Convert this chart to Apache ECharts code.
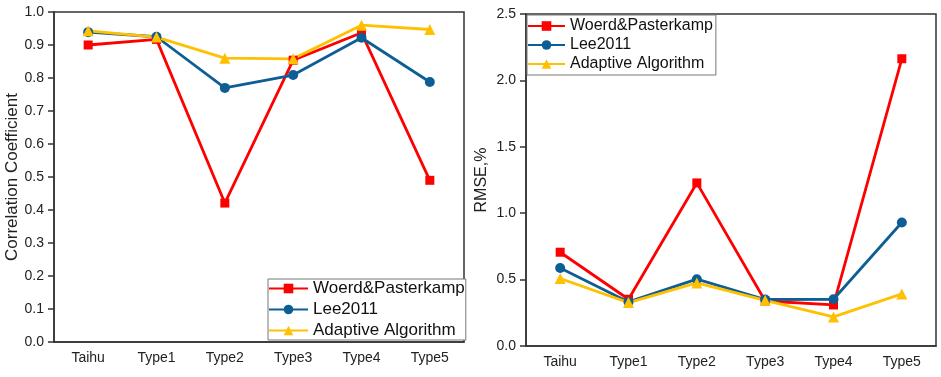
<!DOCTYPE html>
<html>
<head>
<meta charset="utf-8">
<script src="https://cdn.jsdelivr.net/npm/echarts@6/dist/echarts.min.js"></script>
<style>
html,body{margin:0;padding:0;background:#fff;}
#c{width:941px;height:377px;}
</style>
</head>
<body>
<div id="c"></div>
<script>
const categories = ['Taihu', 'Type1', 'Type2', 'Type3', 'Type4', 'Type5'];
const seriesNames = ['Woerd&Pasterkamp', 'Lee2011', 'Adaptive Algorithm'];

const corrWoerd = [0.900, 0.917, 0.421, 0.854, 0.937, 0.490];
const corrLee = [0.939, 0.925, 0.770, 0.809, 0.922, 0.788];
const corrAdaptive = [0.943, 0.924, 0.860, 0.858, 0.960, 0.947];

const rmseWoerd = [0.706, 0.352, 1.228, 0.339, 0.309, 2.163];
const rmseLee = [0.588, 0.332, 0.503, 0.350, 0.352, 0.930];
const rmseAdaptive = [0.508, 0.327, 0.475, 0.344, 0.219, 0.392];

const colors = ['#FF0000', '#0E5E96', '#FFC000'];
const symbols = ['rect', 'circle', 'triangle'];
const symbolSizes = [9, 10, 11];
const FONT = 'Liberation Sans, Arial, sans-serif';

function mkSeries(name, data, idx, axisIdx) {
  return {
    name: name, type: 'line', data: data,
    xAxisIndex: axisIdx, yAxisIndex: axisIdx,
    symbol: symbols[idx], symbolSize: symbolSizes[idx],
    lineStyle: {color: colors[idx], width: 2.8},
    itemStyle: {color: colors[idx]},
    animation: false
  };
}

function xAx(gi) {
  return {
    type: 'category', gridIndex: gi, data: categories, boundaryGap: true,
    axisLine: {lineStyle: {color: '#333', width: 1.5}},
    axisTick: {alignWithLabel: true, length: 6, lineStyle: {color: '#333', width: 1.5}},
    axisLabel: {color: '#222', fontSize: 14, fontFamily: FONT, margin: 9},
    splitLine: {show: false}
  };
}
function yAx(gi, max, interval, name, nameSize, nameGap) {
  return {
    type: 'value', gridIndex: gi, min: 0, max: max, interval: interval,
    name: name, nameLocation: 'middle', nameRotate: 90, nameGap: nameGap,
    nameTextStyle: {color: '#222', fontSize: nameSize, fontFamily: FONT},
    axisLine: {show: true, lineStyle: {color: '#333', width: 1.5}},
    axisTick: {show: true, length: 6, lineStyle: {color: '#333', width: 1.5}},
    axisLabel: {color: '#222', fontSize: 14, fontFamily: FONT, margin: 10,
      formatter: v => v.toFixed(1)},
    splitLine: {show: false}
  };
}

const chart = echarts.init(document.getElementById('c'), null, {renderer: 'canvas'});
chart.setOption({
  backgroundColor: '#fff',
  animation: false,
  grid: [
    {left: 54, top: 12, width: 410, height: 330, show: true, borderColor: '#333', borderWidth: 1.5, backgroundColor: 'transparent'},
    {left: 526, top: 14, width: 410, height: 332, show: true, borderColor: '#333', borderWidth: 1.5, backgroundColor: 'transparent'}
  ],
  xAxis: [xAx(0), xAx(1)],
  yAxis: [
    yAx(0, 1.0, 0.1, 'Correlation Coefficient', 17, 33),
    yAx(1, 2.5, 0.5, 'RMSE,%', 16, 36)
  ],
  legend: [
    {
      orient: 'vertical', left: 268, top: 279,
      data: seriesNames,
      itemWidth: 39, itemHeight: 12, itemGap: 4,
      padding: [1, 1, 1, 0],
      borderColor: '#777', borderWidth: 1, backgroundColor: '#fff',
      textStyle: {color: '#111', fontSize: 17, fontFamily: FONT},
      selectedMode: false
    },
    {
      orient: 'vertical', left: 527, top: 15,
      data: seriesNames,
      itemWidth: 37, itemHeight: 12, itemGap: 3,
      padding: [3, 3, 3, 0],
      borderColor: '#777', borderWidth: 1, backgroundColor: '#fff',
      textStyle: {color: '#111', fontSize: 16, fontFamily: FONT},
      selectedMode: false
    }
  ],
  series: [
    mkSeries(seriesNames[0], corrWoerd, 0, 0),
    mkSeries(seriesNames[1], corrLee, 1, 0),
    mkSeries(seriesNames[2], corrAdaptive, 2, 0),
    mkSeries(seriesNames[0], rmseWoerd, 0, 1),
    mkSeries(seriesNames[1], rmseLee, 1, 1),
    mkSeries(seriesNames[2], rmseAdaptive, 2, 1)
  ]
});
</script>
</body>
</html>
